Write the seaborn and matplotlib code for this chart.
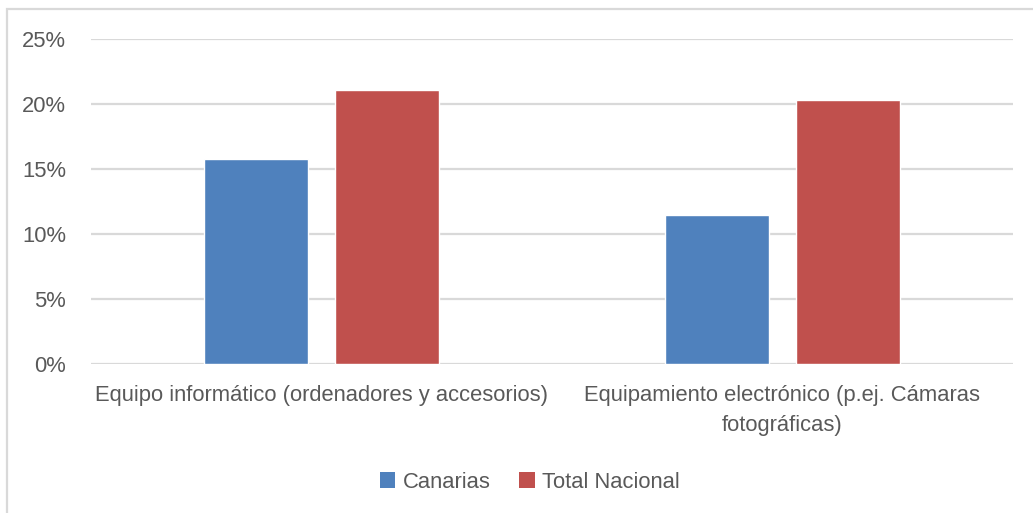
import matplotlib
matplotlib.use("Agg")
import matplotlib.pyplot as plt
from matplotlib.patches import Rectangle, Patch
import seaborn as sns
import pandas as pd

categories = [
    "Equipo informático (ordenadores y accesorios)",
    "Equipamiento electrónico (p.ej. Cámaras\nfotográficas)",
]
series = ["Canarias", "Total Nacional"]
canarias = [15.8, 11.5]
total_nacional = [21.1, 20.3]
yticks = [0, 5, 10, 15, 20, 25]
colors = ["#4F81BD", "#C0504D"]

df = pd.DataFrame({
    "categoria": categories * 2,
    "serie": [series[0]] * len(categories) + [series[1]] * len(categories),
    "valor": canarias + total_nacional,
})

sns.set_theme(style="white")
plt.rcParams["font.family"] = ["Liberation Sans", "DejaVu Sans"]
text_color = "#595959"
grid_color = "#D9D9D9"
fs = 15.8

fig = plt.figure(figsize=(10.33, 5.13), dpi=100)
ax = fig.add_axes([91 / 1033, 1 - 364 / 513, 922 / 1033, 325 / 513])

sns.barplot(data=df, x="categoria", y="valor", hue="serie", order=categories,
            hue_order=series, palette=colors, width=0.568, gap=0.206,
            saturation=1, ax=ax, legend=False)

ax.set_ylim(0, 25)
ax.set_xlim(-0.5, 1.5)
ax.set_yticks(yticks)
ax.set_yticklabels([f"{v}%" for v in yticks])
ax.yaxis.grid(True, color=grid_color, linewidth=1.6)
ax.set_axisbelow(True)
for s in ax.spines.values():
    s.set_visible(False)
ax.set_xlabel("")
ax.set_ylabel("")
ax.tick_params(axis="y", length=0, pad=18, labelsize=fs, labelcolor=text_color)
ax.tick_params(axis="x", length=0, pad=15, labelsize=fs, labelcolor=text_color)
for lbl in ax.get_xticklabels():
    lbl.set_linespacing(1.55)

handles = [Patch(facecolor=c, edgecolor="none") for c in colors]
fig.legend(handles, series, loc="center", bbox_to_anchor=(530 / 1033, 1 - 482 / 513),
           ncol=2, frameon=False, fontsize=fs, labelcolor=text_color,
           handlelength=0.7, handleheight=0.7, handletextpad=0.35, columnspacing=1.3)

fig.patches.append(Rectangle((7 / 1033, -0.05), 1.1, 1 - 9 / 513 + 0.05,
                             transform=fig.transFigure, fill=False,
                             edgecolor=grid_color, linewidth=1.6))

fig.savefig("out.png", dpi=100)
